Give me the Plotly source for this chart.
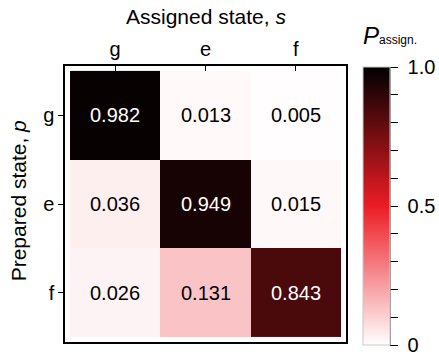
import plotly.graph_objects as go

# Assignment probabilities: rows = prepared state p, columns = assigned state s
states = ["g", "e", "f"]
probs = [
    [0.982, 0.013, 0.005],
    [0.036, 0.949, 0.015],
    [0.026, 0.131, 0.843],
]

FONT = "Liberation Sans, Arial, sans-serif"
idx = list(range(len(states)))

# colour bar placement (paper units relative to the plot area)
cb_x0, cb_x1 = 1.0605, 1.1566
cb_y0, cb_y1 = -0.011, 0.996

fig = go.Figure()
fig.add_trace(go.Heatmap(
    z=probs, x=idx, y=idx,
    zmin=0, zmax=1,
    colorscale=[[0.0, "#ffffff"], [0.5, "#ec1c24"], [1.0, "#000000"]],
    colorbar=dict(
        thickness=27, len=cb_y1 - cb_y0, lenmode="fraction",
        x=cb_x0, xanchor="left", y=cb_y0, yanchor="bottom",
        xpad=0, ypad=0, outlinewidth=1, outlinecolor="#c8c8c8",
        tickmode="linear", tick0=0, dtick=0.1, ticklabelstep=5,
        tickprefix="\u00a0", labelalias={"1": "1.0", "\u00a01": "\u00a01.0"},
        ticklabeloverflow="allow",
        ticks="outside", ticklen=8, tickwidth=1, tickcolor="black",
        tickfont=dict(family=FONT, size=20, color="black"),
    ),
    hoverinfo="skip",
))

annotations = []
for r, row in enumerate(probs):
    for c, v in enumerate(row):
        annotations.append(dict(
            x=c, y=r, xref="x", yref="y", text=f"{v:.3f}", showarrow=False,
            font=dict(family=FONT, size=20, color="white" if v > 0.5 else "black"),
        ))

annotations += [
    dict(x=0.5, y=1.0, xref="paper", yref="paper", yshift=50,
         xanchor="center", yanchor="middle",
         text="Assigned state, <i>s</i>", showarrow=False,
         font=dict(family=FONT, size=21, color="black")),
    dict(x=-0.167, y=0.51, xref="paper", yref="paper", textangle=-90,
         xanchor="center", yanchor="middle",
         text="Prepared state, <i>p</i>", showarrow=False,
         font=dict(family=FONT, size=21, color="black")),
    dict(x=1.055, y=1.0, xref="paper", yref="paper", yshift=31,
         xanchor="left", yanchor="middle",
         text="<i>P</i><span style='font-size:12px'>assign.</span>", showarrow=False,
         font=dict(family=FONT, size=24, color="black")),
]

pad = 5 / 90
fig.update_layout(
    width=439, height=356,
    margin=dict(l=65, r=93, t=66, b=14, autoexpand=False),
    paper_bgcolor="white", plot_bgcolor="white",
    annotations=annotations,
    shapes=[dict(type="line", xref="paper", yref="paper",
                 x0=cb_x1, x1=cb_x1, y0=cb_y0, y1=cb_y1,
                 line=dict(color="black", width=1))],
    xaxis=dict(
        side="top", range=[-0.5 - pad, 2.5 + pad],
        tickmode="array", tickvals=idx, ticktext=states,
        ticks="inside", ticklen=5, tickcolor="black",
        tickfont=dict(family=FONT, size=20, color="black"),
        showline=True, mirror=True, linecolor="black", linewidth=1.5,
        showgrid=False, zeroline=False,
    ),
    yaxis=dict(
        range=[2.5 + pad, -0.5 - pad],
        tickmode="array", tickvals=idx, ticktext=states,
        ticks="outside", ticklen=5, tickcolor="black",
        tickfont=dict(family=FONT, size=20, color="black"),
        showline=True, mirror=True, linecolor="black", linewidth=1.5,
        showgrid=False, zeroline=False,
    ),
)

fig.write_html("out.html")
